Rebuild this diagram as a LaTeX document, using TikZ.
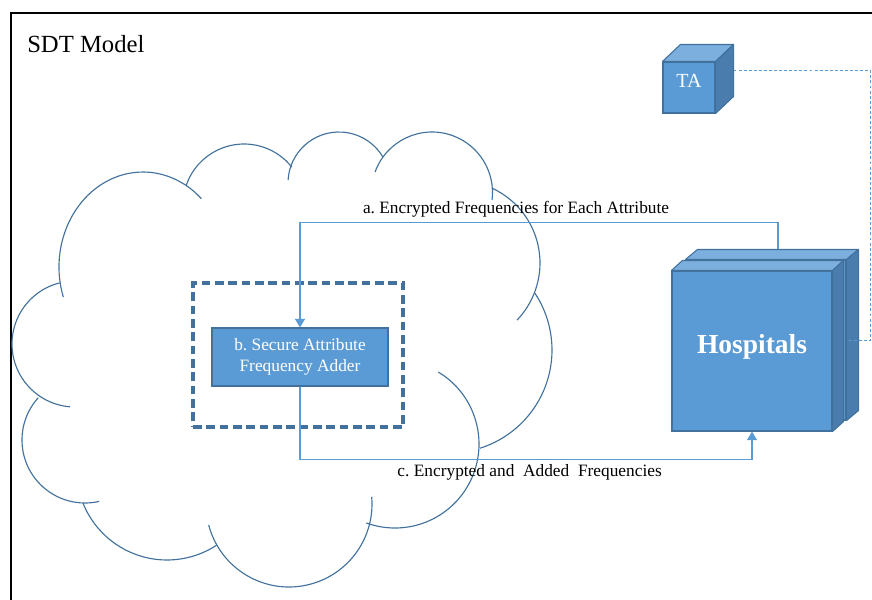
\documentclass[tikz,border=0pt]{standalone}
\usepackage{fontspec}
\setmainfont{Liberation Serif}
\usepackage{tikz}
\usetikzlibrary{arrows.meta}

\definecolor{boxblue}{HTML}{5B9BD5}
\definecolor{edgeblue}{HTML}{41719C}
\definecolor{topblue}{HTML}{7DAFDE}
\definecolor{sideblue}{HTML}{4A7DAD}

\tikzset{
  face/.style={draw=edgeblue, fill=boxblue, line width=0.8pt, inner sep=0pt},
  topface/.style={draw=edgeblue, fill=topblue, line width=0.8pt, line join=round},
  sideface/.style={draw=edgeblue, fill=sideblue, line width=0.8pt, line join=round},
  cloudline/.style={draw=edgeblue, line width=0.85pt},
  flow/.style={draw=boxblue, line width=1pt, -{Triangle[width=7.5pt,length=6.5pt]}},
  keylink/.style={draw=boxblue, line width=0.75pt, dash pattern=on 2.2pt off 1.6pt},
  zone/.style={draw=edgeblue, line width=2.3pt, dash pattern=on 6.5pt off 3.5pt},
  msg/.style={font=\fontsize{13}{15.75}\selectfont},
}
\frenchspacing

\begin{document}
\begin{tikzpicture}[x=0.75pt,y=-0.75pt]
    \useasboundingbox (0,0) rectangle (872,600);
    \clip (0,0) rectangle (872,600);
    % Frame and title
    \draw[line width=0.9pt] (11,13) rectangle (900,640);
    \node[anchor=base west, inner sep=0pt, font=\fontsize{18.5}{22}\selectfont] (title) at (27,52) {SDT Model};

    % Draw the cloud, one arc per bump
    \foreach \cx/\cy/\rx/\ry/\a/\b in {75/344/63/63/256/94.5, 85/440/63/63/222/77,
        167/469.5/90.5/90.5/158.3/56.5, 289/504/83/83/165.4/-5, 395/444/84/84/-59/110,
        449/350/103/103/-33.5/72.5, 457.6/263/82.4/82.4/-65.3/43.9,
        432/192.5/60.5/60.5/199.8/367.1, 339/183/51/51/183.3/329.5,
        244/205/61/61/199.3/321.6, 143/267/84/95/161.6/314}{
      \draw[cloudline] ({\cx+\rx*cos(\a)},{\cy+\ry*sin(\a)})
        arc[start angle=\a, end angle=\b, x radius=\rx, y radius=\ry];
    }

    % Adder inside its dashed zone
    \node[zone, minimum width=157.5pt, minimum height=108pt] (zone) at (298,355) {};
    \node[face, minimum width=132pt, minimum height=43.5pt, text=white, align=center, msg]
      (adder) at (300,357) {b. Secure Attribute\\Frequency Adder};

    % Draw the cubes: front face is the node, then top and side faces
    \node[face, minimum width=39pt, minimum height=38.25pt, text=white,
      font=\fontsize{15}{18}\selectfont, text height=9.5pt, text depth=9.5pt] (ta) at (689,87.5) {TA};
    \node[face, minimum size=120pt] (hospback) at (766,340) {};
    \foreach \cube/\dx/\dy in {ta/18/-17, hospback/12/-10}{
      \filldraw[topface] (\cube.north west) -- ++(\dx,\dy) -- ([shift={(\dx,\dy)}]\cube.north east)
        -- (\cube.north east) -- cycle;
      \filldraw[sideface] (\cube.north east) -- ++(\dx,\dy) -- ([shift={(\dx,\dy)}]\cube.south east)
        -- (\cube.south east) -- cycle;
    }
    \node[face, minimum size=120pt, text=white, font=\bfseries\fontsize{20.6}{24}\selectfont,
      text depth=10pt] (hospfront) at (752,351) {Hospitals};
    \filldraw[topface] (hospfront.north west) -- ++(11,-10) -- ([shift={(11,-10)}]hospfront.north east)
      -- (hospfront.north east) -- cycle;
    \filldraw[sideface] (hospfront.north east) -- ++(11,-10) -- ([shift={(11,-10)}]hospfront.south east)
      -- (hospfront.south east) -- cycle;

    % Connectors
    \draw[flow] ([shift={(12,-10)}]hospback.north) -- ++(0,-27)
      -| node[msg, above, pos=0.274] {a. Encrypted Frequencies for Each Attribute} (adder.north);
    \draw[flow] (adder.south) -- ++(0,73)
      -| node[msg, below, pos=0.254] {c. Encrypted and~ Added~ Frequencies} (hospfront.south);
    \draw[keylink] ([shift={(18,-17)}]ta.east) -- ++(137,0) |- (hospback.east);
\end{tikzpicture}
\end{document}
